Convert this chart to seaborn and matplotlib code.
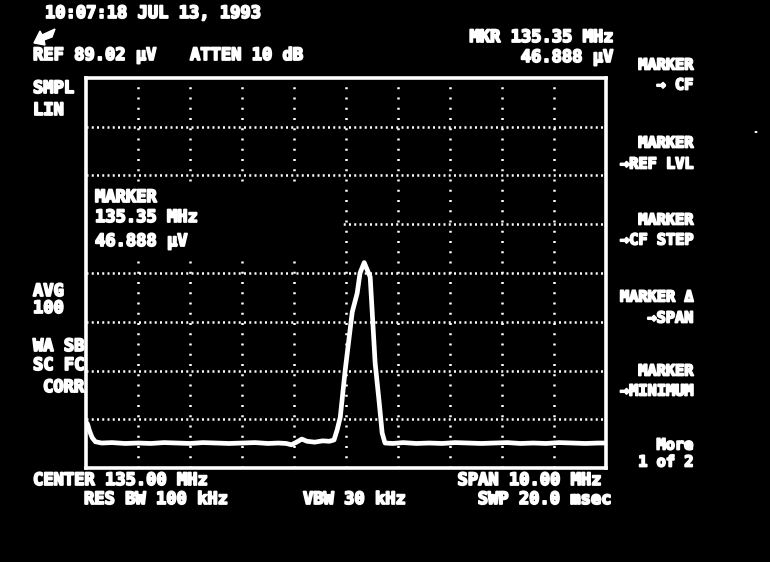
import matplotlib
matplotlib.use("Agg")
import matplotlib.pyplot as plt
import matplotlib.patheffects as pe
from matplotlib.patches import Rectangle, Polygon, Circle
import pandas as pd
import seaborn as sns

# Sweep trace (frequency in MHz, level in microvolts, linear scale)
freq_mhz = [130.00, 130.03, 130.07, 130.12, 130.18, 130.30, 130.50, 130.75,
            131.00, 131.25, 131.50, 131.75, 132.00, 132.25, 132.50, 132.75,
            133.00, 133.25, 133.50, 133.70, 133.85, 133.95, 134.05, 134.15,
            134.25, 134.40, 134.55, 134.68, 134.77, 134.83, 134.89, 134.985,
            135.12, 135.215, 135.27, 135.35, 135.465, 135.505, 135.56, 135.64,
            135.695, 135.75, 135.90, 136.10, 136.35, 136.60, 136.85, 137.10,
            137.35, 137.60, 137.85, 138.10, 138.35, 138.60, 138.85, 139.10,
            139.35, 139.60, 139.85, 140.00]
level_uv = [10.5, 10.0, 8.4, 6.9, 6.0, 5.7, 5.8, 5.6,
            5.7, 5.6, 5.8, 5.7, 5.6, 5.8, 5.7, 5.6,
            5.7, 5.8, 5.6, 5.7, 5.6, 5.3, 5.9, 6.6,
            6.1, 5.9, 6.2, 6.1, 6.4, 8.7, 11.6, 22.4,
            35.6, 39.9, 44.5, 46.888, 43.6, 35.4, 24.0, 14.8,
            8.0, 5.7, 5.6, 5.8, 5.6, 5.7, 5.6, 5.8,
            5.7, 5.6, 5.7, 5.8, 5.6, 5.7, 5.6, 5.8,
            5.7, 5.6, 5.7, 5.7]

# Instrument settings shown in the annotations
center_mhz = 135.00
span_mhz = 10.00
ref_level_uv = 89.02
atten_db = 10
marker_freq_mhz = 135.35
marker_level_uv = 46.888
res_bw_khz = 100
video_bw_khz = 30
sweep_msec = 20.0
timestamp = "10:07:18 JUL 13, 1993"
x_divisions = 10
y_divisions = 8

softkeys = [("MARKER", 65), ("\u2192 CF", 85),
            ("MARKER", 143), ("\u2192REF LVL", 164),
            ("MARKER", 220), ("\u2192CF STEP", 240),
            ("MARKER \u0394", 297), ("\u2192SPAN", 318),
            ("MARKER", 371), ("\u2192MINIMUM", 391),
            ("More", 445), ("1 of 2", 462)]

sns.set_theme(style="dark")
plt.rcParams["font.family"] = ["DejaVu Sans Mono", "DejaVu Sans"]
plt.rcParams["font.weight"] = "bold"
plt.rcParams["text.color"] = "white"

W, H = 770, 562
fig = plt.figure(figsize=(W / 100, H / 100), dpi=100, facecolor="black")


def fx(px):
    return px / W


def fy(py):
    return 1 - py / H


FS = 12.3
FS_MENU = 11.0
# heavier strokes, like the vector-display lettering
BOLD = [pe.withStroke(linewidth=1.3, foreground="white")]


def label(x, y, s, ha="left", size=FS, target=None):
    target = target if target is not None else fig
    kw = {}
    if target is not fig:
        kw = {"transform": fig.transFigure, "zorder": 6}
    target.text(fx(x), fy(y), s, ha=ha, va="center", fontsize=size,
                color="white", path_effects=BOLD, **kw)


# Graticule / display area
ax = fig.add_axes([fx(86), fy(468), fx(606) - fx(86), fy(78) - fy(468)])
ax.set_zorder(5)
ax.set_facecolor("black")
x0 = center_mhz - span_mhz / 2
x1 = center_mhz + span_mhz / 2
ax.set_xlim(x0, x1)
ax.set_ylim(0, ref_level_uv)
ax.set_xticks([])
ax.set_yticks([])
for sp in ax.spines.values():
    sp.set_visible(True)
    sp.set_color("white")
    sp.set_linewidth(2.6)

for i in range(1, x_divisions):
    ax.axvline(x0 + i * span_mhz / x_divisions, color="white", lw=1.8,
               linestyle=(0, (0.8, 3.3)), zorder=1)
for j in range(1, y_divisions):
    ax.axhline(j * ref_level_uv / y_divisions, color="white", lw=1.8,
               linestyle=(0, (0.8, 1.3)), zorder=1)

# Blank area behind the on-screen marker readout
ax.add_patch(Rectangle((x0, 48.8), 134.92 - x0, 65.3 - 48.8,
                       facecolor="black", edgecolor="none", zorder=1.5))

trace = pd.DataFrame({"freq": freq_mhz, "level": level_uv})
sns.lineplot(data=trace, x="freq", y="level", ax=ax, color="white",
             linewidth=3.4, zorder=3, estimator=None, sort=False)
ax.set_xlabel("")
ax.set_ylabel("")

# Marker readout inside the graticule
label(95, 197, "MARKER", target=ax)
label(95, 217, f"{marker_freq_mhz:.2f} MHz", target=ax)
label(95, 241, f"{marker_level_uv:.3f} \u00b5V", target=ax)

# Header
label(45, 13, timestamp)
label(33, 55, f"REF {ref_level_uv:.2f} \u00b5V")
label(190, 55, f"ATTEN {atten_db} dB")
label(613, 37, f"MKR {marker_freq_mhz:.2f} MHz", ha="right")
label(613, 57, f"{marker_level_uv:.3f} \u00b5V", ha="right")

# Small arrow icon under the timestamp
arrow_px = [(34, 43), (40, 31), (42, 35), (55, 29), (52, 37), (44, 40), (45, 45)]
fig.patches.append(Polygon([(fx(a), fy(b)) for a, b in arrow_px], closed=True,
                           facecolor="white", edgecolor="white",
                           transform=fig.transFigure))
fig.patches.append(Circle((fx(756), fy(132)), 1.5 / W, facecolor="white",
                          edgecolor="none", transform=fig.transFigure))

# Left-hand status labels
for txt, px, py in [("SMPL", 33, 88), ("LIN", 33, 110), ("AVG", 33, 291),
                    ("100", 33, 308), ("WA SB", 33, 346), ("SC FC", 33, 365),
                    ("CORR", 43, 387)]:
    label(px, py, txt)

# Softkey menu
for txt, py in softkeys:
    label(693, py, txt, ha="right", size=FS_MENU)

# Footer
label(33, 480, f"CENTER {center_mhz:.2f} MHz")
label(84, 499, f"RES BW {res_bw_khz} kHz")
label(303, 499, f"VBW {video_bw_khz} kHz")
label(601, 480, f"SPAN {span_mhz:.2f} MHz", ha="right")
label(611, 499, f"SWP {sweep_msec:.1f} msec", ha="right")

fig.savefig("out.png", dpi=100, facecolor="black")
